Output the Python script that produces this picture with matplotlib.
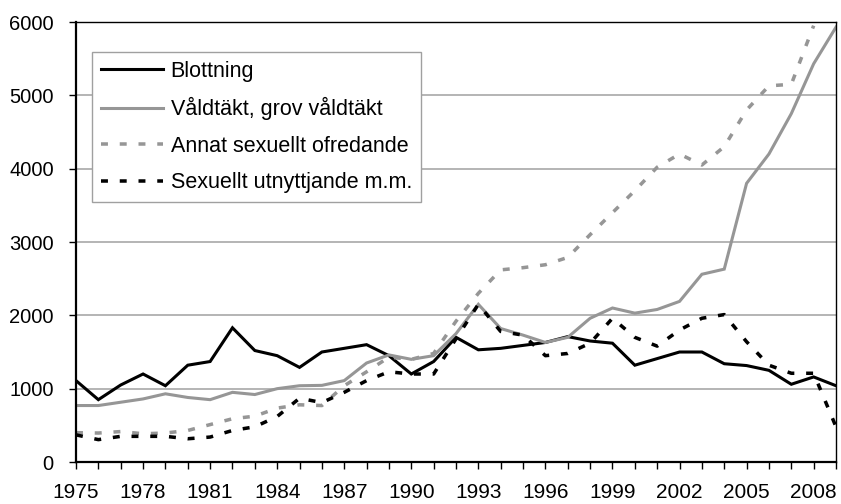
import numpy as np
import matplotlib
matplotlib.use("Agg")
import matplotlib.pyplot as plt

plt.rcParams['font.family'] = ['Liberation Sans', 'DejaVu Sans']
plt.rcParams['lines.scale_dashes'] = False

years = list(range(1975, 2010))

blottning = [1110, 850, 1050, 1200, 1040, 1320, 1370, 1830, 1520, 1450,
             1290, 1500, 1550, 1600, 1450, 1200, 1370, 1700, 1530, 1550,
             1590, 1630, 1710, 1650, 1620, 1320, 1410, 1500, 1500, 1340,
             1315, 1250, 1060, 1160, 1040]

valdtakt = [770, 770, 815, 860, 930, 880, 850, 950, 920, 1000,
            1040, 1045, 1110, 1350, 1460, 1400, 1450, 1750, 2150, 1820,
            1730, 1630, 1700, 1960, 2100, 2030, 2080, 2190, 2560, 2630,
            3800, 4200, 4750, 5430, 5930]

annat = [400, 395, 415, 385, 395, 430, 510, 590, 625, 735,
         780, 770, 1040, 1230, 1430, 1400, 1480, 1920, 2300, 2620,
         2650, 2690, 2790, 3100, 3400, 3700, 4020, 4200, 4050, 4300,
         4800, 5130, 5150, 5950, np.nan]

utnyttjande = [370, 305, 350, 350, 350, 317, 340, 430, 480, 620,
               870, 810, 950, 1110, 1230, 1200, 1200, 1680, 2150, 1780,
               1730, 1450, 1480, 1620, 1960, 1700, 1580, 1800, 1960, 2010,
               1640, 1320, 1210, 1210, 480]

labels = ["Blottning", "Våldtäkt, grov våldtäkt",
          "Annat sexuellt ofredande", "Sexuellt utnyttjande m.m."]

yticks = [0, 1000, 2000, 3000, 4000, 5000, 6000]
xlabel_years = list(range(1975, 2010, 3))

W, H = 841, 504
fig = plt.figure(figsize=(W / 100, H / 100), dpi=100)
ax = fig.add_axes([76 / W, 1 - 462 / H, (836 - 76) / W, (462 - 22) / H])

gray = '#969696'
lw = 2.2
dash = (0, (5.0, 8.5))

ax.plot(years, blottning, color='black', lw=lw, label=labels[0],
        solid_joinstyle='miter')
ax.plot(years, valdtakt, color=gray, lw=lw, label=labels[1],
        solid_joinstyle='miter')
ax.plot(years, annat, color=gray, lw=lw * 1.15, linestyle=dash,
        dash_capstyle='butt', label=labels[2])
ax.plot(years, utnyttjande, color='black', lw=lw * 1.15, linestyle=dash,
        dash_capstyle='butt', label=labels[3])

ax.set_xlim(1975, 2009)
ax.set_ylim(0, 6000)
ax.set_yticks(yticks)
ax.set_yticklabels([str(v) for v in yticks])
ax.set_xticks(years)
ax.set_xticklabels([str(y) if y in xlabel_years else '' for y in years])

for v in yticks[1:-1]:
    ax.axhline(v, color='#a0a0a0', lw=1.1, zorder=0)

for s in ax.spines.values():
    s.set_color('black')
    s.set_linewidth(1.0)
ax.spines['left'].set_linewidth(1.6)
ax.spines['bottom'].set_linewidth(1.6)

ax.tick_params(axis='y', direction='out', length=5, width=1, pad=11,
               labelsize=14.5, colors='black')
ax.tick_params(axis='x', direction='out', length=5, width=1, pad=10,
               labelsize=15, colors='black')

leg = ax.legend(loc='upper left', bbox_to_anchor=((92 - 76) / 760, (462 - 52) / 440),
                borderaxespad=0, frameon=True, fancybox=False, shadow=False,
                fontsize=15.5, handlelength=2.9, handletextpad=0.35,
                borderpad=0.4, labelspacing=0.72)
leg.get_frame().set_edgecolor('#a0a0a0')
leg.get_frame().set_linewidth(1.0)
leg.get_frame().set_facecolor('white')
leg.get_frame().set_alpha(1)

fig.savefig('out.png', dpi=100)
